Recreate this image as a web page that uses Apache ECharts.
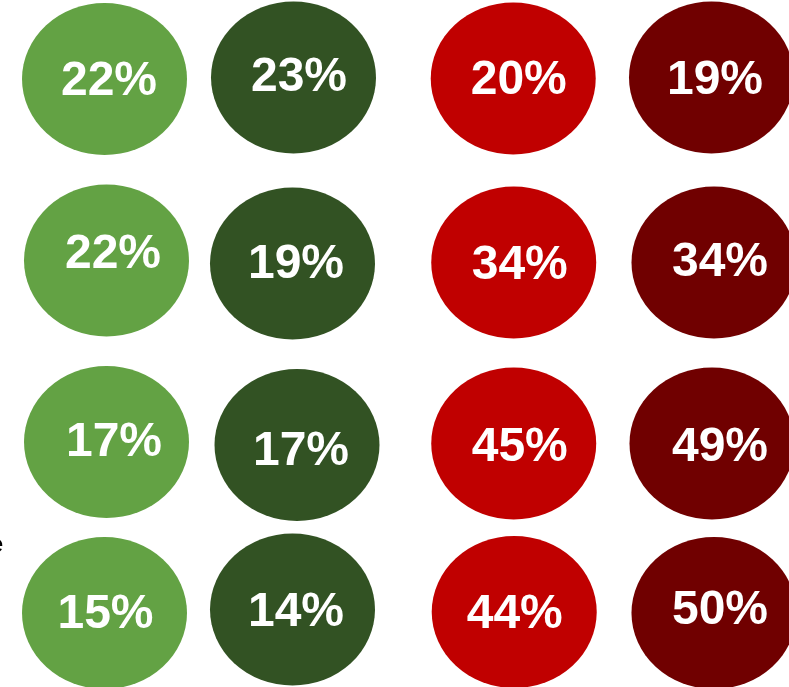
<!DOCTYPE html>
<html>
<head>
<meta charset="utf-8">
<script src="https://cdn.jsdelivr.net/npm/echarts@6/dist/echarts.min.js"></script>
<style>
html,body{margin:0;padding:0;background:#fff;}
#chart{width:789px;height:687px;}
</style>
</head>
<body>
<div id="chart"></div>
<script>
// ---- data ----
const columns = ['Group A 1', 'Group A 2', 'Group B 1', 'Group B 2'];
const rows = ['Row 1', 'Row 2', 'Row 3', 'Row 4'];
const lightGreenValues = [22, 22, 17, 15];
const darkGreenValues = [23, 19, 17, 14];
const redValues = [20, 34, 45, 44];
const darkRedValues = [19, 34, 49, 50];

// ---- style ----
const seriesValues = [lightGreenValues, darkGreenValues, redValues, darkRedValues];
const colors = ['#63A244', '#325223', '#C00000', '#700000'];
const rowShift = [0, 6, 9.5, 0];          // visual nudge per row (px)
// per-cell label nudges [dx, dy] (px), indexed [row][col]
const labelNudge = [
  [[3.5, 4], [5, 0], [5, 2.5], [2, 2.5]],
  [[7.5, -7], [2, 3], [6, 3.5], [7, 0.5]],
  [[8.5, -0.5], [7, 8.5], [6, 4.5], [7, 4.5]],
  [[0, 3], [2, 1], [1, 3], [7, -1]]
];
// per-cell shape nudges [dx, dy] (px), indexed [row][col]
const shapeNudge = [
  [[-1, 1], [-0.5, -0.5], [-0.5, 0.5], [-1.5, -0.5]],
  [[1, -1.5], [-1.5, 1.5], [0, 0.5], [1, 0.5]],
  [[1, -1.5], [3, 1.5], [0, 0], [-1, 0]],
  [[-1, 1], [-1.5, -2.5], [0.5, 0], [1, 1]]
];
const ellipse = 'path://M0,1A1,1,0,1,1,2,1A1,1,0,1,1,0,1Z';

const chart = echarts.init(document.getElementById('chart'));

const series = seriesValues.map((vals, i) => ({
  type: 'scatter',
  name: columns[i],
  xAxisIndex: i < 2 ? 0 : 1,
  yAxisIndex: i < 2 ? 0 : 1,
  symbol: ellipse,
  symbolSize: [165, 152],
  itemStyle: { color: colors[i], opacity: 1 },
  label: {
    show: true,
    position: 'inside',
    formatter: p => p.value[2] + '%',
    color: '#ffffff',
    fontSize: 48,
    fontWeight: 'bold',
    fontFamily: 'Liberation Sans, Arial, sans-serif'
  },
  emphasis: { disabled: true },
  data: vals.map((v, r) => ({
    value: [columns[i], rows[r], v],
    symbolOffset: [shapeNudge[r][i][0], rowShift[r] + shapeNudge[r][i][1]],
    label: {
      offset: [labelNudge[r][i][0] - shapeNudge[r][i][0], labelNudge[r][i][1] - shapeNudge[r][i][1]]
    }
  }))
}));

chart.setOption({
  animation: false,
  backgroundColor: '#ffffff',
  grid: [
    { left: 11.25, width: 377, top: -11, height: 712, outerBoundsMode: 'none', containLabel: false },
    { left: 414.1, width: 398.5, top: -11, height: 712, outerBoundsMode: 'none', containLabel: false }
  ],
  xAxis: [
    { type: 'category', gridIndex: 0, data: columns.slice(0, 2), show: false },
    { type: 'category', gridIndex: 1, data: columns.slice(2, 4), show: false }
  ],
  yAxis: [
    { type: 'category', gridIndex: 0, data: rows, inverse: true, show: false },
    { type: 'category', gridIndex: 1, data: rows, inverse: true, show: false }
  ],
  graphic: [{
    type: 'text',
    left: -10,
    top: 533,
    style: { text: 'e', fill: '#000', font: '24px Liberation Sans, Arial, sans-serif' },
    silent: true
  }],
  series: series
});
</script>
</body>
</html>
